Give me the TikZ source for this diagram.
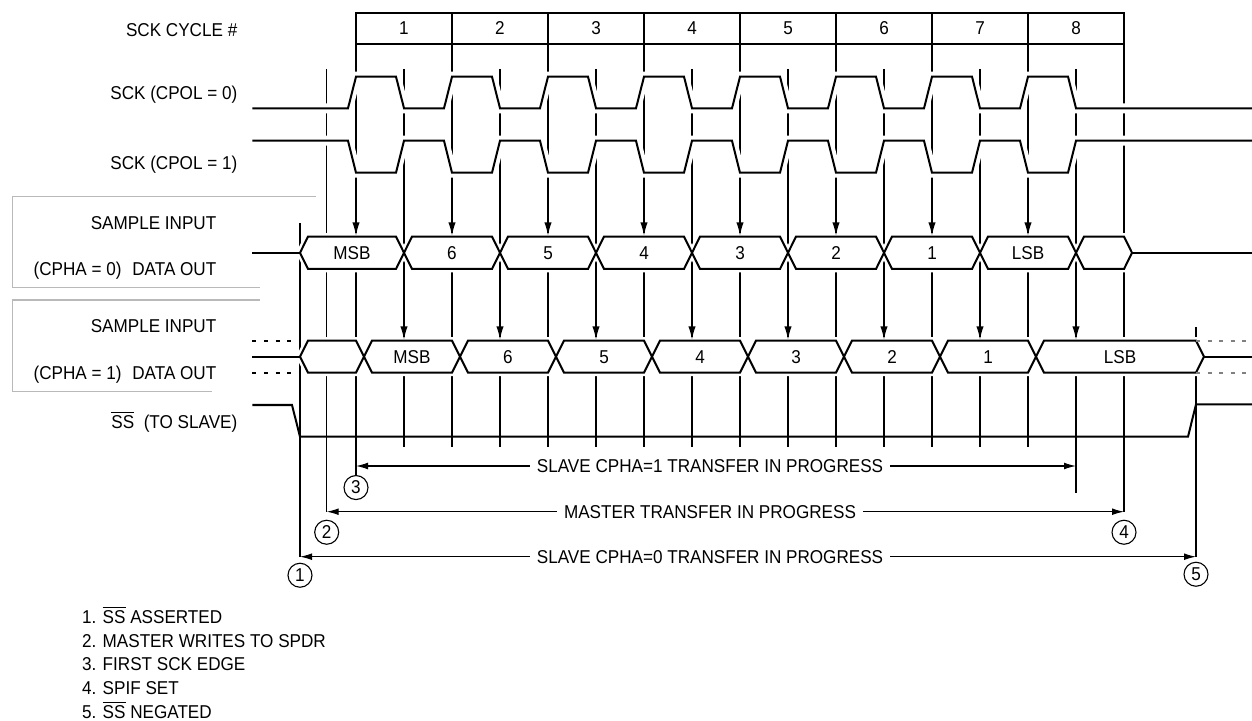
\documentclass[tikz,border=0pt]{standalone}
\usepackage{fontspec}
\setmainfont{Liberation Sans}[FakeStretch=0.92]
\usetikzlibrary{arrows.meta, positioning}
\newcommand{\negsig}[1]{$\overline{\mbox{#1}}$}

\begin{document}
\begin{tikzpicture}[
  x=0.5pt, y=-0.5pt,
  font=\fontsize{9.3}{11}\selectfont,
  wave/.style={line width=1pt, preaction={draw=white, line width=5pt}},
  bus/.style={draw, line width=1pt, fill=white,
              preaction={draw=white, line width=3.5pt}},
  busline/.style={line width=1pt},
  unknown/.style={line width=1pt, dash pattern=on 2pt off 3.8pt},
  edgeline/.style={line width=0.55pt},
  framebox/.style={draw=gray!55, line width=0.7pt},
  cyclebox/.style={draw, line width=1pt, minimum width=48pt,
                   minimum height=15.7pt, inner sep=0pt, outer sep=0pt},
  samplearr/.style={-{Latex[length=6.5pt, width=3.6pt]}, line width=0.55pt},
  spanarr/.style={{Latex[length=6pt, width=3.4pt]}-{Latex[length=6pt, width=3.4pt]},
                  line width=0.55pt},
  spanlabel/.style={fill=white, inner xsep=3.5pt, inner ysep=1pt,
                    text height=6.7pt, text depth=0pt},
  buslabel/.style={inner sep=0pt, text height=6.7pt, text depth=0pt},
  marker/.style={draw, circle, line width=0.55pt, minimum size=12pt, inner sep=0pt},
  siglabel/.style={anchor=east, inner sep=0pt, text height=6.7pt, text depth=0pt},
  note/.style={anchor=base west, inner sep=0pt}
]
\useasboundingbox (0,0) rectangle (1252,721);

% label frames
\draw[framebox] (316,196.7) -- (12.3,196.7) -- (12.3,287.3) -- (260,287.3);
\draw[framebox] (260,300) -- (12.3,300) -- (12.3,391.7) -- (212,391.7);

% cycle counter
\foreach \i in {1,...,8}
  \node[cyclebox] (cyc\i) at ({308+96*\i},28.3) {\i};

% timing lines
\foreach \i in {2,...,8}
  \draw[edgeline] (cyc\i.south west) -- ++(0,402.7);
\draw[edgeline] (cyc1.south west) -- (356,475) coordinate (e3);
\draw[edgeline] (cyc8.south east) -- (1124,511.7) coordinate (e4);
\foreach \g in {404,500,...,980}
  \draw[edgeline] (\g,69) -- (\g,446.7);
\draw[edgeline] (1076,69) -- (1076,492.7) coordinate (t1);
\draw[edgeline] (300,223) -- (300,556.7) coordinate (e1);
\draw[edgeline] (326.7,69) -- (326.7,511.7) coordinate (e2);
\draw[edgeline] (1196,327) -- (1196,556.7) coordinate (e5);

% clocks
\draw[wave] (252.3,108.3) \foreach \g in {356,452,...,1028}
  { -- ({\g-8},108.3) -- (\g,76.7) -- ({\g+40},76.7) -- ({\g+48},108.3) }
  -- (1252,108.3);
\draw[wave] (252.3,140.7) \foreach \g in {356,452,...,1028}
  { -- ({\g-8},140.7) -- (\g,172.7) -- ({\g+40},172.7) -- ({\g+48},140.7) }
  -- (1252,140.7);

% data, CPHA = 0
\draw[bus] (300,252.8) \foreach \a/\b in {300/404,404/500,500/596,596/692,
    692/788,788/884,884/980,980/1076,1076/1132}
  { (\a,252.8) -- ({\a+8},236.6) -- ({\b-8},236.6) -- (\b,252.8)
    -- ({\b-8},269) -- ({\a+8},269) -- cycle };
\draw[busline] (252.3,252.8) -- (300,252.8);
\draw[busline] (1132,252.8) -- (1252,252.8);
\foreach \a/\b/\txt [count=\i] in {300/404/MSB,404/500/6,500/596/5,596/692/4,
    692/788/3,788/884/2,884/980/1,980/1076/LSB}
  \node[buslabel] (da\i) at ({(\a+\b)/2},252.8) {\txt};

% data, CPHA = 1
\draw[bus] (300,356.7) \foreach \a/\b in {300/364,364/460,460/556,556/652,
    652/748,748/844,844/940,940/1036,1036/1204}
  { (\a,356.7) -- ({\a+8},340.7) -- ({\b-8},340.7) -- (\b,356.7)
    -- ({\b-8},372.7) -- ({\a+8},372.7) -- cycle };
\draw[busline] (252.3,356.7) -- (300,356.7);
\draw[busline] (1204,356.7) -- (1252,356.7);
\draw[unknown] (252.3,340.7) -- (300,340.7);
\draw[unknown] (252.3,372.7) -- (300,372.7);
\draw[unknown, gray] (1196,340.7) -- (1252,340.7);
\draw[unknown, gray] (1196,372.7) -- (1252,372.7);
\foreach \a/\b/\txt [count=\i] in {364/460/MSB,460/556/6,556/652/5,652/748/4,
    748/844/3,844/940/2,940/1036/1,1036/1204/LSB}
  \node[buslabel] (db\i) at ({(\a+\b)/2},356.7) {\txt};

% sample points
\foreach \g in {356,452,...,1028}
  \draw[samplearr] (\g,200) -- (\g,235.5);
\foreach \g in {404,500,...,1076}
  \draw[samplearr] (\g,300) -- (\g,339.5);

% slave select
\draw[busline] (252.3,405) -- (292,405) -- (300,436.7) -- (1188,436.7)
  -- (1196,404.3) -- (1252,404.3);

% transfer spans
\coordinate (s1l) at (356,466);
\coordinate (s1r) at (1076,466);
\draw[spanarr] (s1l) -- (s1r);
\node[spanlabel] (span1) at (710,466) {SLAVE CPHA=1 TRANSFER IN PROGRESS};
\draw[spanarr] (e2) -- (e4);
\node[spanlabel] (span2) at (710,511.7) {MASTER TRANSFER IN PROGRESS};
\draw[spanarr] (e1) -- (e5);
\node[spanlabel] (span3) at (710,556.7) {SLAVE CPHA=0 TRANSFER IN PROGRESS};

% event markers
\node[marker, below=3pt of e1] (m1) {1};
\node[marker, below=4pt of e2] (m2) {2};
\node[marker, below=0pt of e3] (m3) {3};
\node[marker, below=4pt of e4] (m4) {4};
\node[marker, below=2.5pt of e5] (m5) {5};

% signal names
\node[siglabel] (lcyc) at (237.7,30) {SCK CYCLE \#};
\node[siglabel] (lcpol0) at (237.7,92.5) {SCK (CPOL = 0)};
\node[siglabel] (lcpol1) at (237.7,162.5) {SCK (CPOL = 1)};
\node[siglabel] (lsamp0) at (216.7,222.5) {SAMPLE INPUT};
\node[siglabel] (lout0) at (216.7,269) {(CPHA = 0)\hspace{3pt} DATA OUT};
\node[siglabel] (lsamp1) at (216.7,326) {SAMPLE INPUT};
\node[siglabel] (lout1) at (216.7,373) {(CPHA = 1)\hspace{3pt} DATA OUT};
\node[siglabel] (lss) at (237.7,421.5) {\negsig{SS}\ \ (TO SLAVE)};

% notes
\foreach \txt [count=\i] in {{\negsig{SS} ASSERTED},{MASTER WRITES TO SPDR},
    {FIRST SCK EDGE},{SPIF SET},{\negsig{SS} NEGATED}}
  \node[note] (note\i) at (81.7,{599.8+23.7*\i}) {\i. \txt};
\end{tikzpicture}
\end{document}
